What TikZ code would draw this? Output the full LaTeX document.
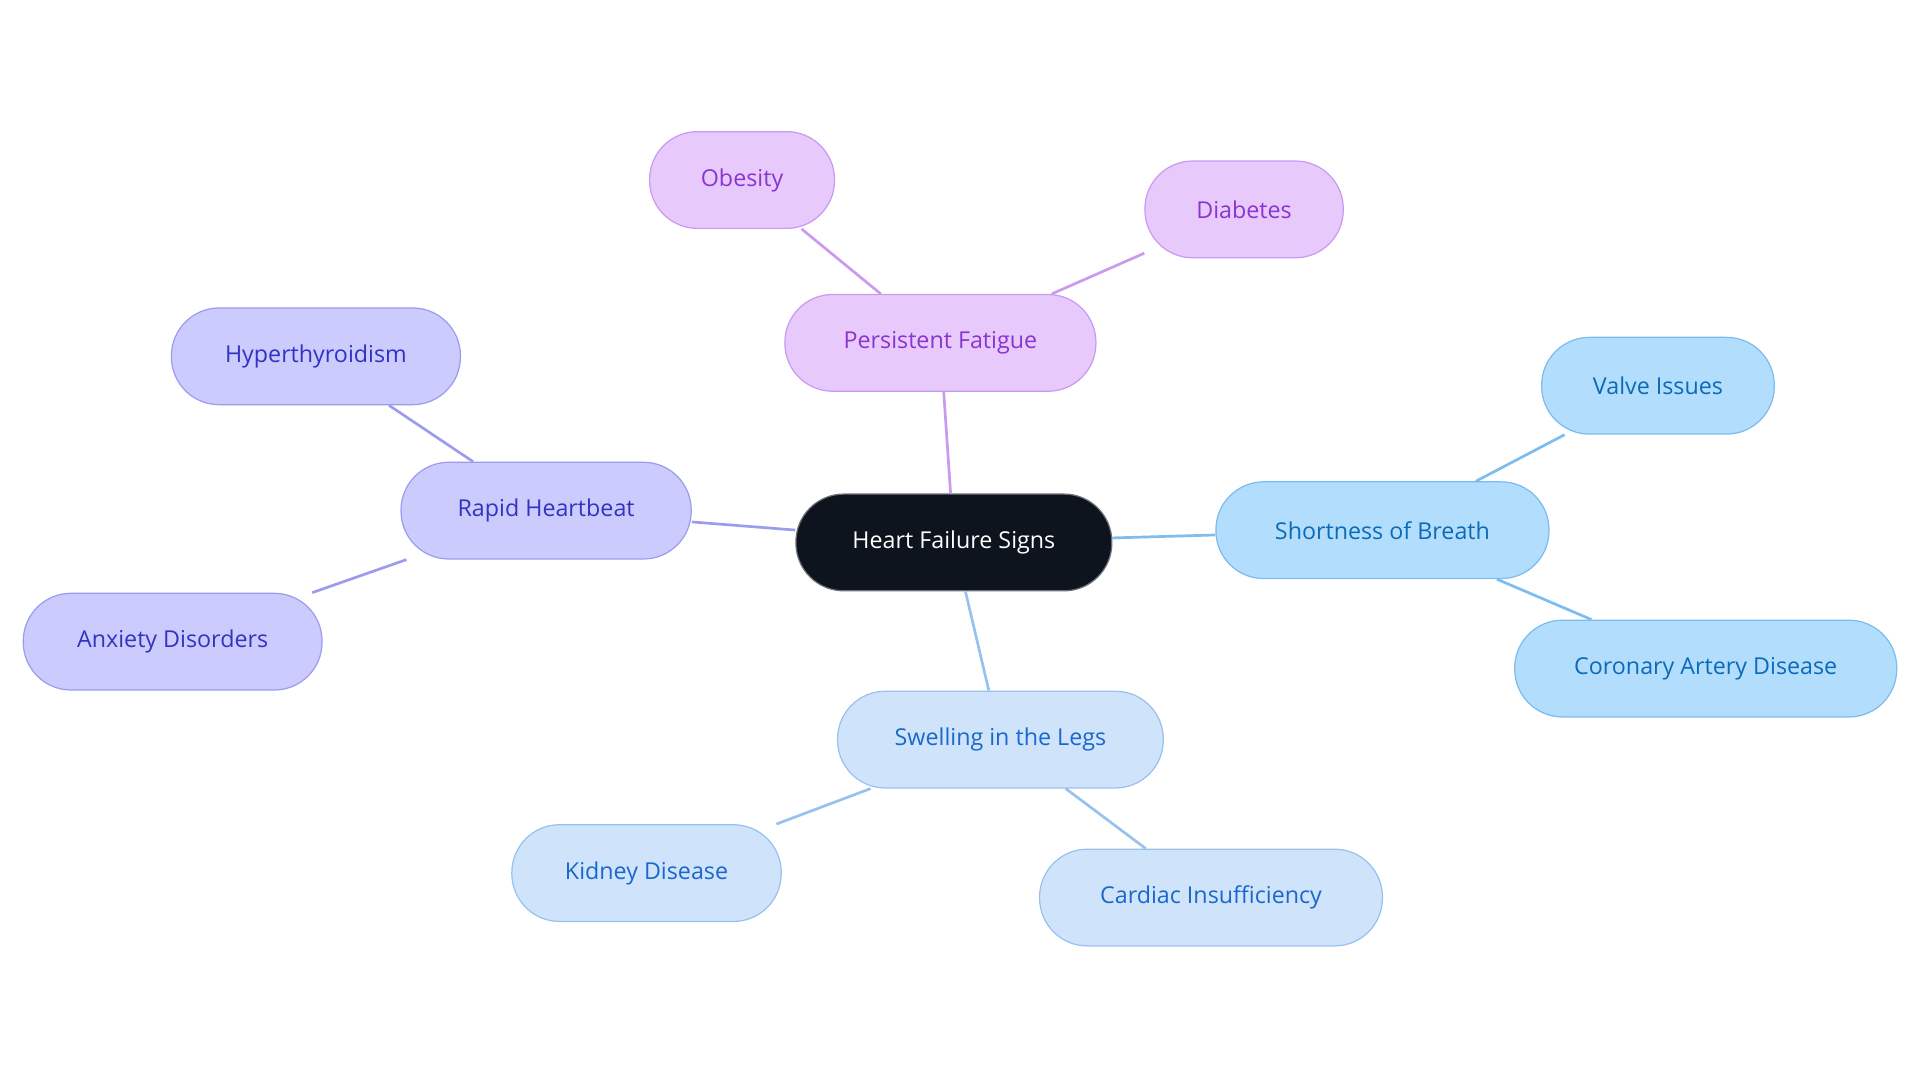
\documentclass[tikz,border=0pt]{standalone}
\usepackage{fontspec}
\setmainfont{Open Sans}
\definecolor{cc}{HTML}{0D141E}
\definecolor{pf}{HTML}{E8C9FC}\definecolor{pd}{HTML}{C99AF0}\definecolor{pt}{HTML}{8A35D0}
\definecolor{rf}{HTML}{CBCBFD}\definecolor{rd}{HTML}{9C9CEE}\definecolor{rt}{HTML}{3333C2}
\definecolor{sf}{HTML}{B3DDFC}\definecolor{sd}{HTML}{7CBCEE}\definecolor{st}{HTML}{0B6BB8}
\definecolor{lf}{HTML}{CFE3FB}\definecolor{ld}{HTML}{98C2EE}\definecolor{lt}{HTML}{1A68CC}
\tikzset{pill/.style={rectangle,rounded corners=39pt,minimum height=79pt,line width=1pt,font=\fontsize{19}{22}\selectfont,inner sep=0pt},
 pp/.style={pill,fill=pf,draw=pd,text=pt},
 rr/.style={pill,fill=rf,draw=rd,text=rt},
 ss/.style={pill,fill=sf,draw=sd,text=st},
 ll/.style={pill,fill=lf,draw=ld,text=lt},
 ed/.style={line width=2.2pt}}
\begin{document}
\begin{tikzpicture}[x=1pt,y=-1pt]
\useasboundingbox (0,0) rectangle (1568,884);
\begin{scope}[on background layer/.style={}]
\end{scope}
\node[pill,fill=cc,draw=cc!60,text=white,minimum width=258pt] (c) at (779,443) {Heart Failure Signs};
\node[pp,minimum width=254pt] (pf) at (768,280) {Persistent Fatigue};
\node[pp,minimum width=151pt] (ob) at (606,147) {Obesity};
\node[pp,minimum width=162pt] (di) at (1016,171) {Diabetes};
\node[rr,minimum width=237pt] (rh) at (446,417) {Rapid Heartbeat};
\node[rr,minimum width=236pt] (hy) at (258,291) {Hyperthyroidism};
\node[rr,minimum width=244pt] (an) at (141,524) {Anxiety Disorders};
\node[ss,minimum width=272pt] (sb) at (1129,433) {Shortness of Breath};
\node[ss,minimum width=190pt] (vi) at (1354,315) {Valve Issues};
\node[ss,minimum width=312pt] (ca) at (1393,546) {Coronary Artery Disease};
\node[ll,minimum width=266pt] (sw) at (817,604) {Swelling in the Legs};
\node[ll,minimum width=220pt] (kd) at (528,713) {Kidney Disease};
\node[ll,minimum width=280pt] (ci) at (989,733) {Cardiac Insufficiency};
\draw[ed,pd] (c)--(pf) (pf)--(ob) (pf)--(di);
\draw[ed,rd] (c)--(rh) (rh)--(hy) (rh)--(an);
\draw[ed,sd] (c)--(sb) (sb)--(vi) (sb)--(ca);
\draw[ed,ld] (c)--(sw) (sw)--(kd) (sw)--(ci);
\end{tikzpicture}
\end{document}
